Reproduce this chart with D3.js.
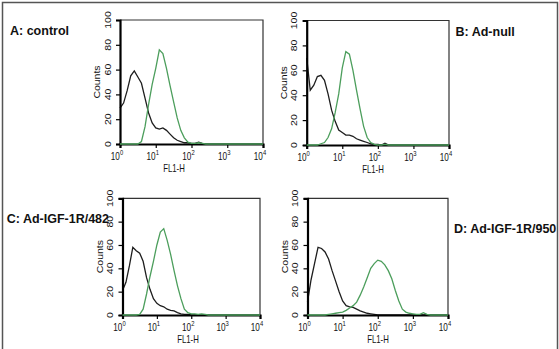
<!DOCTYPE html>
<meta charset="utf-8">
<head>
  <title>FL1-H histograms</title>
  <script src="https://cdnjs.cloudflare.com/ajax/libs/d3/7.8.5/d3.min.js"></script>
  <style>
    body { margin: 0; background: #fff; }
    text { font-family: "Liberation Sans", Arial, sans-serif; fill: #111; }
    .title { font-weight: bold; font-size: 12.5px; }
  </style>
</head>
<body>
<div id="chart"></div>
<script>
  var WIDTH = 559
  var HEIGHT = 349

  // log10 of FL1-H, one point every 0.1 decade
  var logX = [0, 0.1, 0.2, 0.3, 0.4, 0.5, 0.6, 0.7, 0.8, 0.9,
              1, 1.1, 1.2, 1.3, 1.4, 1.5, 1.6, 1.7, 1.8, 1.9,
              2, 2.1, 2.2, 2.3, 2.4, 2.5, 2.6, 2.7, 2.8, 2.9,
              3, 3.1, 3.2, 3.3, 3.4, 3.5, 3.6, 3.7, 3.8, 3.9, 4]

  var blackA = [29, 33, 43, 55, 59, 54, 49, 37, 25, 17, 13, 12, 13, 11, 8, 5, 3, 2, 1, 1,
                0.5, 0.5, 1.5, 0.5, 0, 0, 0, 0, 0, 0, 0, 0, 0, 0, 0, 0, 0, 0, 0, 0, 0]
  var greenA = [0, 0, 0, 0, 0, 0, 2, 14, 32, 48, 61, 76, 73, 61, 47, 34, 21, 11, 5, 1.5,
                0.5, 0.5, 1, 0.5, 0, 0, 0, 0, 0, 0, 0, 0, 0, 0, 0, 0, 0, 0, 0, 0, 0]
  var blackB = [70, 44, 48, 55, 56, 52, 41, 28, 19, 12, 10, 8, 8, 7, 5, 4, 3, 2, 1, 0.5,
                0.5, 0, 1.5, 0, 0, 0, 0, 0, 0, 0, 0, 0, 0, 0, 0, 0, 0, 0, 0, 0, 0]
  var greenB = [0, 0, 0, 0, 1, 2, 6, 13, 26, 41, 62, 75, 73, 60, 44, 29, 15, 6, 2, 0.5,
                0, 0, 0.5, 0, 0, 0, 0, 0, 0, 0, 0, 0, 0, 0, 0, 0, 0, 0, 0, 0, 0]
  var blackC = [21, 28, 42, 58, 55, 53, 46, 32, 22, 14, 10, 8, 7, 5, 4, 3.5, 2, 1, 0.5, 0.5,
                0, 0, 0, 0, 0, 0, 0, 0, 0, 0, 0, 0, 0, 0, 0, 0, 0, 0, 0, 0, 0]
  var greenC = [0, 0, 0, 0, 0, 0.5, 5, 18, 33, 46, 60, 71, 74, 64, 52, 38, 25, 14, 5, 2,
                1, 1, 0.5, 1, 0.5, 0, 0, 0, 0, 0, 0, 0, 0, 0, 0, 0, 0, 0, 0, 0, 0]
  var blackD = [11, 30, 44, 58, 57, 54, 48, 38, 29, 20, 12, 8, 7, 6.5, 5, 3.5, 2.5, 1.5, 1, 0.5,
                0, 0, 0, 0, 0, 0, 0, 0, 0, 0, 0, 0, 0, 0, 0, 0, 0, 0, 0, 0, 0]
  var greenD = [0, 0, 0, 0, 0, 0, 0.5, 1, 1.5, 2, 2.5, 4, 6, 8, 11, 17, 24, 32, 40, 44,
                47, 46, 43, 38, 31, 21, 12, 5, 2.5, 1.5, 1, 0.5, 0.5, 2, 0.5, 0, 0, 0, 0, 0, 0]

  var titles = ["A: control", "B: Ad-null", "C: Ad-IGF-1R/482", "D: Ad-IGF-1R/950"]
  var yTicks = [0, 20, 40, 60, 80, 100]
  var xDecades = [0, 1, 2, 3, 4]
  var xLabel = "FL1-H"
  var yLabel = "Counts"

  // where each panel sits on the page
  var panels = [
    {black: blackA, green: greenA, left: 120, right: 263, top: 20, bottom: 144, tx: 10, ty: 35, labX: 174},
    {black: blackB, green: greenB, left: 306.7, right: 449, top: 20.5, bottom: 145, tx: 455.5, ty: 36, labX: 373},
    {black: blackC, green: greenC, left: 122.5, right: 260, top: 198.3, bottom: 315, tx: 6.7, ty: 222.7, labX: 188},
    {black: blackD, green: greenD, left: 307.5, right: 448, top: 198.3, bottom: 315, tx: 454, ty: 232.5, labX: 378}
  ]

  var SQUISH = 0.78   // the plots were squeezed sideways in the source figure
  var FS = "10.5px"

  var svg = d3.select("#chart").append("svg")
    .attr("width", WIDTH)
    .attr("height", HEIGHT)

  // outer frame (bottom edge is cut off)
  svg.append("path")
    .attr("d", "M2.5," + HEIGHT + "V2.5H557.5V" + HEIGHT)
    .attr("fill", "none")
    .attr("stroke", "#555")
    .attr("stroke-width", 1.5)

  var minorY = []
  for (var v = 0; v <= 100; v += 2.5) minorY.push(v)
  var minorX = []
  xDecades.slice(0, 4).forEach(function(d) {
    for (var m = 2; m <= 9; m++) minorX.push(m * Math.pow(10, d))
  })

  panels.forEach(function(p, i) {
    var x = d3.scaleLog().domain([1, 1e4]).range([p.left, p.right])
    var y = d3.scaleLinear().domain([0, 100]).range([p.bottom, p.top])
    var g = svg.append("g")

    // top and right frame
    g.append("path")
      .attr("d", "M" + p.left + "," + p.top + "H" + p.right + "V" + p.bottom)
      .attr("fill", "none")
      .attr("stroke", "#333")
      .attr("stroke-width", 1.2)

    var line = d3.line()
      .x(function(d, k) { return x(Math.pow(10, logX[k])) })
      .y(function(d) { return y(d) })

    g.append("path").datum(p.black)
      .attr("d", line)
      .attr("fill", "none")
      .attr("stroke", "#1e1e1e")
      .attr("stroke-width", 1.3)

    // axes
    var ya = g.append("g").attr("transform", "translate(" + p.left + ",0)")
    ya.call(d3.axisLeft(y).tickValues(minorY).tickSize(2.5).tickFormat(""))
    ya.call(d3.axisLeft(y).tickValues(yTicks).tickSize(4).tickFormat(""))
    ya.select(".domain").attr("stroke-width", 2.2)
    ya.selectAll(".tick line").attr("stroke-width", 1.2)

    var xa = g.append("g").attr("transform", "translate(0," + p.bottom + ")")
    xa.call(d3.axisBottom(x).tickValues(minorX).tickSize(3).tickFormat(""))
    xa.call(d3.axisBottom(x).tickValues(xDecades.map(function(d) { return Math.pow(10, d) })).tickSize(4).tickFormat(""))
    xa.selectAll(".domain").attr("stroke-width", 2.2)
    xa.selectAll(".tick line").attr("stroke-width", 1.2)

    g.append("path").datum(p.green)
      .attr("d", line)
      .attr("fill", "none")
      .attr("stroke", "#4c9e5c")
      .attr("stroke-width", 1.3)

    // y tick labels, rotated
    yTicks.forEach(function(t) {
      g.append("text")
        .attr("transform", "translate(" + (p.left - 9.5) + "," + y(t) + ") scale(" + SQUISH + ",1) rotate(-90)")
        .attr("text-anchor", "middle")
        .style("font-size", FS)
        .text(t)
    })
    g.append("text")
      .attr("transform", "translate(" + (p.left - 20) + "," + ((p.top + p.bottom) / 2) + ") scale(" + SQUISH + ",1) rotate(-90)")
      .attr("text-anchor", "middle")
      .style("font-size", FS)
      .text(yLabel)

    // x tick labels as 10^n
    xDecades.forEach(function(d) {
      var t = g.append("text")
        .attr("transform", "translate(" + (x(Math.pow(10, d)) - 3) + "," + (p.bottom + 15.5) + ") scale(" + SQUISH + ",1)")
        .attr("text-anchor", "middle")
        .style("font-size", FS)
      t.append("tspan").text("10")
      t.append("tspan").attr("dy", -4.5).style("font-size", "7.5px").text(d)
    })
    g.append("text")
      .attr("transform", "translate(" + p.labX + "," + (p.bottom + 27.5) + ") scale(" + SQUISH + ",1)")
      .attr("text-anchor", "middle")
      .style("font-size", "10px")
      .text(xLabel)

    svg.append("text")
      .attr("class", "title")
      .attr("x", p.tx)
      .attr("y", p.ty)
      .text(titles[i])
  })
</script>
</body>
